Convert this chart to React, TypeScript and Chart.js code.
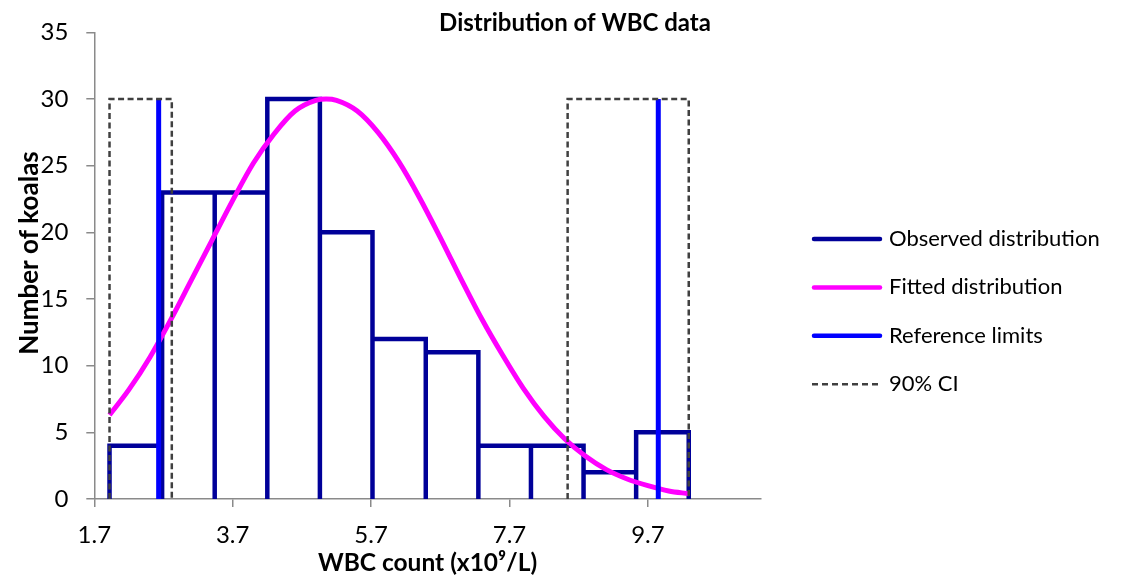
import React, { useEffect, useRef } from "react";
import { Chart, registerables } from "chart.js";

Chart.register(...registerables);

// Text
const chartTitle = "Distribution of WBC data";
const xAxisTitle = "WBC count (x10⁹/L)";
const yAxisTitle = "Number of koalas";

// Axes
const xMin = 1.7;
const xMax = 11.33;
const xTickValues = [1.7, 3.7, 5.7, 7.7, 9.7];
const xTickLabels = ["1.7", "3.7", "5.7", "7.7", "9.7"];
const yMin = 0;
const yMax = 35;
const yStep = 5;

// Observed histogram: bin edges and counts per bin
const binEdges = [1.92, 2.68, 3.44, 4.2, 4.96, 5.72, 6.49, 7.25, 8.01, 8.77, 9.53, 10.29];
const binCounts = [4, 23, 23, 30, 20, 12, 11, 4, 4, 2, 5];

// Fitted distribution curve
const fittedX = [1.92, 2.2, 2.5, 2.8, 3.1, 3.4, 3.7, 4.0, 4.3, 4.6, 4.9, 5.05, 5.2, 5.5, 5.8, 6.1, 6.4, 6.7, 7.0, 7.3, 7.6, 7.9, 8.2, 8.5, 8.8, 9.1, 9.4, 9.7, 10.0, 10.29];
const fittedY = [6.3, 8.2, 10.6, 13.4, 16.4, 19.4, 22.4, 25.2, 27.4, 29.1, 29.9, 30.0, 29.9, 29.1, 27.5, 25.3, 22.6, 19.6, 16.5, 13.5, 10.8, 8.3, 6.2, 4.5, 3.2, 2.2, 1.5, 1.0, 0.6, 0.4];

// Reference limits (lower, upper) and the height of their marker lines
const referenceLimits = [2.63, 9.85];
const referenceHeight = 30;

// 90% confidence intervals of each reference limit
const ciLower = [1.92, 2.82];
const ciUpper = [8.54, 10.29];
const ciHeight = 30;

// Series labels
const seriesLabels = ["Observed distribution", "Fitted distribution", "Reference limits", "90% CI"];

const FONT = "Lato, 'Open Sans', sans-serif";

type Pt = { x: number; y: number | null };

function histogramPath(): Pt[] {
  const pts: Pt[] = [];
  binCounts.forEach((c, i) => {
    const x0 = binEdges[i];
    const x1 = binEdges[i + 1];
    pts.push({ x: x0, y: 0 }, { x: x0, y: c }, { x: x1, y: c }, { x: x1, y: 0 });
  });
  return pts;
}

function referencePath(): Pt[] {
  const [lo, hi] = referenceLimits;
  return [
    { x: lo, y: 0 },
    { x: lo, y: referenceHeight },
    { x: (lo + hi) / 2, y: null },
    { x: hi, y: 0 },
    { x: hi, y: referenceHeight },
  ];
}

function ciPath(): Pt[] {
  const box = (r: number[]): Pt[] => [
    { x: r[0], y: 0 },
    { x: r[0], y: ciHeight },
    { x: r[1], y: ciHeight },
    { x: r[1], y: 0 },
  ];
  return [...box(ciLower), { x: (ciLower[1] + ciUpper[0]) / 2, y: null }, ...box(ciUpper)];
}

// Chart title over the top of the plot, and the rotated y-axis title
const titlePlugin = {
  id: "titles",
  afterDraw(chart: any) {
    const ctx = chart.ctx;
    ctx.save();
    ctx.fillStyle = "#000";
    ctx.textAlign = "center";
    ctx.textBaseline = "middle";
    ctx.font = `bold 24px ${FONT}`;
    ctx.fillText(chartTitle, 575, 23);

    ctx.translate(30, 253);
    ctx.rotate(-Math.PI / 2);
    ctx.font = `bold 26px ${FONT}`;
    ctx.fillText(yAxisTitle, 0, 0);
    ctx.restore();
  },
};

// Legend listed vertically to the right of the plot
const legendPlugin = {
  id: "sideLegend",
  afterDraw(chart: any) {
    const ctx = chart.ctx;
    const lineX0 = 814;
    const lineX1 = 880;
    const textX = 889;
    const firstY = 239;
    const rowGap = 48.4;
    ctx.save();
    chart.data.datasets.forEach((ds: any, i: number) => {
      const y = firstY + i * rowGap;
      const dashed = Array.isArray(ds.borderDash) && ds.borderDash.length > 0;
      ctx.beginPath();
      ctx.strokeStyle = ds.borderColor;
      ctx.lineWidth = dashed ? 2.5 : 4.5;
      ctx.lineCap = dashed ? "butt" : "round";
      ctx.setLineDash(dashed ? [6, 4] : []);
      if (dashed) {
        ctx.moveTo(lineX0 - 2, y);
        ctx.lineTo(lineX1 + 2, y);
      } else {
        ctx.moveTo(lineX0, y);
        ctx.lineTo(lineX1, y);
      }
      ctx.stroke();
      ctx.setLineDash([]);
      ctx.fillStyle = "#000";
      ctx.font = `22px ${FONT}`;
      ctx.textAlign = "left";
      ctx.textBaseline = "middle";
      ctx.fillText(ds.label, textX, y);
    });
    ctx.restore();
  },
};

export default function App() {
  const canvasRef = useRef<HTMLCanvasElement | null>(null);

  useEffect(() => {
    document.body.style.margin = "0";
    const canvas = canvasRef.current;
    if (!canvas) return;

    const axisGray = "#8a8a8a";

    const chart = new Chart(canvas, {
      type: "line",
      data: {
        datasets: [
          {
            label: seriesLabels[0],
            data: histogramPath() as any,
            borderColor: "#000099",
            borderWidth: 4.5,
            borderJoinStyle: "miter",
            pointRadius: 0,
            tension: 0,
            fill: false,
            order: 4,
          },
          {
            label: seriesLabels[1],
            data: fittedX.map((x, i) => ({ x, y: fittedY[i] })) as any,
            borderColor: "#ff00ff",
            borderWidth: 5,
            pointRadius: 0,
            cubicInterpolationMode: "monotone",
            fill: false,
            order: 3,
          },
          {
            label: seriesLabels[2],
            data: referencePath() as any,
            borderColor: "#0000ff",
            borderWidth: 5,
            pointRadius: 0,
            tension: 0,
            spanGaps: false,
            fill: false,
            order: 2,
          },
          {
            label: seriesLabels[3],
            data: ciPath() as any,
            borderColor: "#404040",
            borderWidth: 2.5,
            borderDash: [6, 3.5],
            borderJoinStyle: "miter",
            pointRadius: 0,
            tension: 0,
            spanGaps: false,
            fill: false,
            order: 1,
          },
        ],
      },
      options: {
        animation: false,
        responsive: true,
        maintainAspectRatio: false,
        layout: { padding: { top: 30, right: 367.3, bottom: 0, left: 0 } },
        plugins: {
          legend: { display: false },
          title: { display: false },
          tooltip: { enabled: false },
        },
        scales: {
          x: {
            type: "linear",
            min: xMin,
            max: xMax,
            afterFit: (scale: any) => {
              scale.height = 77;
            },
            afterBuildTicks: (scale: any) => {
              scale.ticks = xTickValues.map((v) => ({ value: v }));
            },
            ticks: {
              autoSkip: false,
              maxRotation: 0,
              padding: 14,
              color: "#000",
              font: { family: FONT, size: 24 },
              callback: (_v: any, i: number) => xTickLabels[i],
            },
            grid: {
              drawOnChartArea: false,
              drawTicks: true,
              tickLength: 8,
              color: axisGray,
              lineWidth: 1.5,
            },
            border: { display: true, color: axisGray, width: 1.5 },
            title: {
              display: true,
              text: xAxisTitle,
              color: "#000",
              font: { family: FONT, size: 24.5, weight: "bold", lineHeight: 1.0 },
              padding: { top: 0, bottom: 1 },
            },
          },
          y: {
            type: "linear",
            min: yMin,
            max: yMax,
            afterFit: (scale: any) => {
              scale.width = 94.3;
            },
            ticks: {
              stepSize: yStep,
              padding: 18,
              color: "#000",
              font: { family: FONT, size: 24 },
            },
            grid: {
              drawOnChartArea: false,
              drawTicks: true,
              tickLength: 8,
              color: axisGray,
              lineWidth: 1.5,
            },
            border: { display: true, color: axisGray, width: 1.5 },
            title: { display: false },
          },
        },
      },
      plugins: [titlePlugin, legendPlugin],
    });

    return () => {
      chart.destroy();
    };
  }, []);

  return (
    <div style={{ position: "absolute", left: 0, top: 0, width: 1128, height: 576 }}>
      <canvas ref={canvasRef} />
    </div>
  );
}
